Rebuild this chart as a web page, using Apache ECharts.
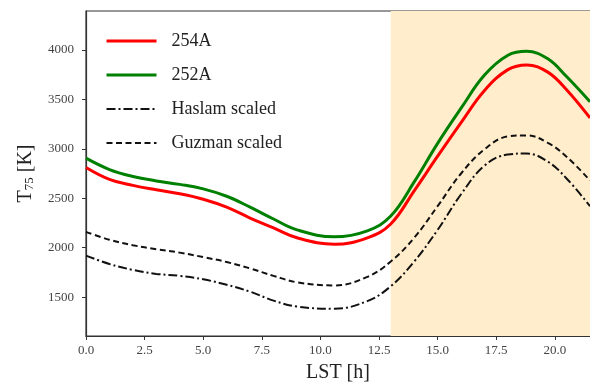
<!DOCTYPE html>
<html>
<head>
<meta charset="utf-8">
<script src="https://cdn.jsdelivr.net/npm/echarts@6/dist/echarts.min.js"></script>
<style>
html,body{margin:0;padding:0;background:#fff;}
#chart{width:590px;height:388px;}
</style>
</head>
<body>
<div id="chart"></div>
<script>
const hours = [0,1,2,3,4,5,6,7,8,9,10.6,12,13,14,15,16,17,18,18.8,19.7,20.5,21.5];
const t254A = [2810,2690,2630,2585,2545,2490,2410,2300,2200,2100,2035,2100,2240,2575,2925,3265,3590,3800,3848,3775,3597,3312];
const t252A = [2905,2790,2720,2675,2640,2595,2520,2410,2290,2180,2110,2170,2320,2665,3055,3410,3745,3945,3985,3910,3730,3475];
const haslam = [1920,1835,1775,1735,1715,1680,1625,1555,1465,1405,1383,1460,1610,1860,2180,2540,2830,2942,2952,2870,2700,2420];
const guzman = [2160,2080,2025,1985,1950,1905,1855,1790,1715,1650,1618,1705,1860,2100,2420,2750,2995,3125,3135,3060,2920,2680];
const xTicks = [0,2.5,5,7.5,10,12.5,15,17.5,20];
const yTicks = [1500,2000,2500,3000,3500,4000];
const shadeStart = 13;

const pairs = arr => hours.map((h,i)=>[h,arr[i]]);
const font = '"Liberation Serif","DejaVu Serif",serif';

const chart = echarts.init(document.getElementById('chart'));
chart.setOption({
  animation:false,
  grid:{left:86,top:11,right:-2,bottom:51,show:true,borderColor:'#333',borderWidth:1.2,backgroundColor:'transparent'},
  legend:{
    left:100,top:27,orient:'vertical',itemWidth:50,itemHeight:14,itemGap:16,
    itemStyle:{opacity:0},
    textStyle:{fontFamily:font,fontSize:18,color:'#222',padding:[0,0,0,10]},
    data:[
      {name:'254A',lineStyle:{width:3}},
      {name:'252A',lineStyle:{width:3}},
      {name:'Haslam scaled',lineStyle:{width:2}},
      {name:'Guzman scaled',lineStyle:{width:2}}
    ]
  },
  xAxis:{
    type:'value',min:0,max:21.5,
    name:'LST [h]',nameLocation:'middle',nameGap:27,
    nameTextStyle:{fontFamily:font,fontSize:20,color:'#222'},
    axisLine:{show:true,lineStyle:{color:'#333',width:1.2}},
    axisTick:{show:true,inside:false,length:4,customValues:xTicks,lineStyle:{color:'#333'}},
    axisLabel:{customValues:xTicks,fontFamily:font,fontSize:13,color:'#444',margin:8,formatter:v=>v.toFixed(1)},
    splitLine:{show:false}
  },
  yAxis:{
    type:'value',min:1107,max:4393,
    name:'T{sub|75} [K]',nameLocation:'middle',nameGap:50,
    nameTextStyle:{fontFamily:font,fontSize:20,color:'#222',rich:{sub:{fontFamily:font,fontSize:13,color:'#222',verticalAlign:'bottom',padding:[8,0,0,0]}}},
    axisLine:{show:true,lineStyle:{color:'#333',width:1.2}},
    axisTick:{show:true,inside:false,length:4,customValues:yTicks,lineStyle:{color:'#333'}},
    axisLabel:{customValues:yTicks,fontFamily:font,fontSize:13,color:'#444',margin:12,formatter:v=>String(v)},
    splitLine:{show:false}
  },
  series:[
    {name:'254A',type:'line',smooth:0.4,symbol:'none',data:pairs(t254A),
     lineStyle:{color:'#ff0000',width:3},itemStyle:{color:'#ff0000'},z:4,
     markArea:{silent:true,itemStyle:{color:'#ffedcc'},data:[[{xAxis:shadeStart},{xAxis:21.5}]]}},
    {name:'252A',type:'line',smooth:0.4,symbol:'none',data:pairs(t252A),
     lineStyle:{color:'#008000',width:3},itemStyle:{color:'#008000'},z:3},
    {name:'Haslam scaled',type:'line',smooth:0.4,symbol:'none',data:pairs(haslam),
     lineStyle:{color:'#111',width:2,type:[9,3,2,3]},itemStyle:{color:'#111'},z:2},
    {name:'Guzman scaled',type:'line',smooth:0.4,symbol:'none',data:pairs(guzman),
     lineStyle:{color:'#111',width:2,type:[6,3.5]},itemStyle:{color:'#111'},z:2}
  ]
});
</script>
</body>
</html>
